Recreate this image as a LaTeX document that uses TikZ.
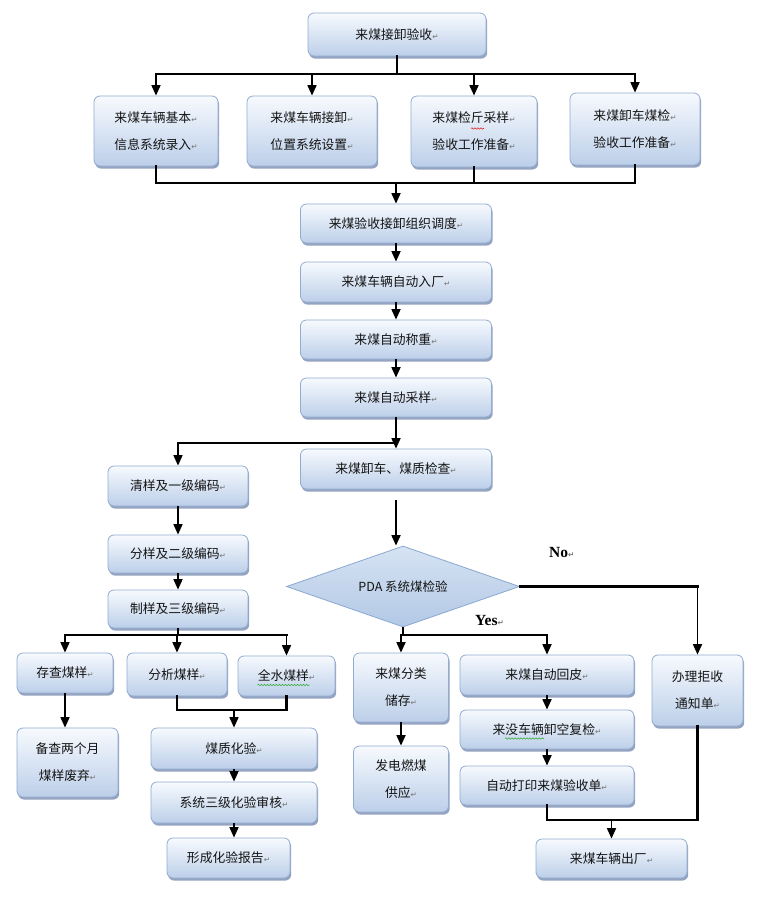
\documentclass[tikz,border=0pt]{standalone}
\usepackage{fontspec}
\setmainfont{Liberation Serif}
\newfontfamily\cjk{Noto Sans CJK SC}
\newfontfamily\djv{DejaVu Sans}
\usetikzlibrary{arrows.meta,shapes.geometric,shadows,decorations.pathmorphing,calc}

\definecolor{boxtop}{RGB}{247,250,254}
\definecolor{boxbot}{RGB}{188,207,233}
\definecolor{boxline}{RGB}{146,172,208}
\definecolor{shadowc}{RGB}{130,148,180}
\definecolor{diatop}{RGB}{214,227,243}
\definecolor{diabot}{RGB}{178,200,229}
\definecolor{dialine}{RGB}{136,168,210}
\definecolor{wavered}{RGB}{220,40,40}
\definecolor{wavegreen}{RGB}{60,170,60}

\newcommand\pmark{{\djv\color{black!55}\fontsize{7.5}{7.5}\selectfont\symbol{"21B5}}}
\newcommand\mkbox[6]{\node[box, minimum width=#4pt, minimum height=#5pt] (#1) at (#2,#3) {#6};}

\tikzset{
  box/.style={draw=boxline, line width=0.8pt, rounded corners=6pt,
    top color=boxtop, bottom color=boxbot,
    drop shadow={shadow xshift=1.2pt, shadow yshift=-2.6pt, fill=shadowc, opacity=0.85},
    inner sep=0pt, align=center, text=black!92,
    font=\cjk\fontsize{12.8}{27}\selectfont},
  diabox/.style={diamond, draw=dialine, line width=0.8pt, top color=diatop, bottom color=diabot,
    inner sep=0pt, aspect=2.9, text=black!92, font=\cjk\fontsize{12.5}{15}\selectfont},
  arr/.style={line width=1.7pt, -{Triangle[length=10.5pt,width=9pt]}},
  thin/.style={line width=1.7pt},
  bar/.style={line width=2.7pt, line cap=rect},
  wave/.style={decorate, decoration={snake, amplitude=0.7pt, segment length=3pt}, line width=0.6pt},
  lab/.style={inner sep=0pt, font=\bfseries\fontsize{15.5}{15.5}\selectfont}
}

\begin{document}
\begin{tikzpicture}[x=1pt,y=-1pt]
\fill[white] (0,0) rectangle (760,900);
\useasboundingbox (0,0) rectangle (760,900);

% top part
\mkbox{top}{397}{34.5}{178}{43}{来煤接卸验收\pmark}
\mkbox{b1}{156}{131}{124}{70}{来煤车辆基本\pmark\\信息系统录入\pmark}
\mkbox{b2}{312}{131}{130}{70}{来煤车辆接卸\pmark\\位置系统设置\pmark}
\mkbox{b3}{474}{131.5}{126}{71}{来煤检斤采样\pmark\\验收工作准备\pmark}
\mkbox{b4}{635}{129}{130}{72}{来煤卸车煤检\pmark\\验收工作准备\pmark}

% central column
\mkbox{zz}{396}{223.5}{191}{39}{来煤验收接卸组织调度\pmark}
\mkbox{rc}{396}{282}{191}{40}{来煤车辆自动入厂\pmark}
\mkbox{cz}{396}{339.5}{191}{39}{来煤自动称重\pmark}
\mkbox{cy}{396}{397.5}{191}{39}{来煤自动采样\pmark}
\mkbox{xc}{396}{469}{191}{40}{来煤卸车、煤质检查\pmark}

% left column
\mkbox{qy}{178}{486}{140}{40}{清样及一级编码\pmark}
\mkbox{fy}{178}{554}{140}{38}{分样及二级编码\pmark}
\mkbox{zy}{178}{609}{140}{38}{制样及三级编码\pmark}

% decision
\node[diabox, minimum width=233pt, minimum height=81pt] (dia) at (403,586.5) {PDA 系统煤检验};

% lower left
\mkbox{cc}{65}{673}{96}{40}{存查煤样\pmark}
\mkbox{fx}{177}{674.5}{100}{43}{分析煤样\pmark}
\mkbox{qs}{286.5}{676}{97}{40}{全水煤样\pmark}
\mkbox{bc}{67.5}{762.5}{101}{69}{备查两个月\\煤样废弃\pmark}
\mkbox{mz}{234}{748.5}{166}{41}{煤质化验\pmark}
\mkbox{sh}{234}{802.5}{166}{41}{系统三级化验审核\pmark}
\mkbox{bg}{228.5}{858}{123}{40}{形成化验报告\pmark}

% lower right
\mkbox{fl}{401}{687.5}{95}{69}{来煤分类\\储存\pmark}
\mkbox{fd}{401}{779}{95}{66}{发电燃煤\\供应\pmark}
\mkbox{hp}{547}{675}{174}{40}{来煤自动回皮\pmark}
\mkbox{fj}{547}{729.5}{174}{39}{来没车辆卸空复检\pmark}
\mkbox{dy}{547}{785.5}{174}{39}{自动打印来煤验收单\pmark}
\mkbox{jq}{697.5}{690.5}{91}{71}{办理拒收\\通知单\pmark}
\mkbox{cl}{611.5}{858.5}{151}{39}{来煤车辆出厂\pmark}

% labels
\node[lab, anchor=west] (no) at (549,552) {No\pmark};
\node[lab, anchor=west] (yes) at (475,620) {Yes\pmark};

% ---- connectors ----
\coordinate (j1) at (397,74);
\draw[bar] (top.south) -- (j1);
\draw[bar] (b1.north|-j1) -- (b4.north|-j1);
\foreach \n in {b1,b2,b3,b4} \draw[arr] (\n.north|-j1) -- (\n.north);

\coordinate (j2) at (397,183);
\draw[bar] (b1.south) -- (b1.south|-j2) -- (b4.south|-j2) -- (b4.south);
\draw[bar] (b3.south) -- (b3.south|-j2);
\draw[arr] (zz.north|-j2) -- (zz.north);

\draw[arr] (zz) -- (rc);
\draw[arr] (rc) -- (cz);
\draw[arr] (cz) -- (cy);

\coordinate (j3) at (396,443);
\draw[thin] (cy.south) -- (j3);
\draw[arr] (j3) -- (xc.north);
\draw[bar] (j3) -- (qy.north|-j3);
\draw[arr] (qy.north|-j3) -- (qy.north);
\draw[arr] (qy) -- (fy);
\draw[arr] (fy) -- (zy);

\draw[arr, shorten <=11pt] (xc.south) -- (xc.south|-dia.north);

\coordinate (j4) at (jq.north|-dia.east);
\draw[bar] (dia.east) -- (j4);
\draw[arr] (j4) -- (jq.north);

\coordinate (j5) at (403,635);
\draw[thin] (dia.south) -- (dia.south|-j5);
\draw[bar] (fl.north|-j5) -- (hp.north|-j5);
\draw[arr] (fl.north|-j5) -- (fl.north);
\draw[arr] (hp.north|-j5) -- (hp.north);
\draw[arr] (fl) -- (fd);
\draw[arr] (hp) -- (fj);
\draw[arr] (fj) -- (dy);

\coordinate (j6) at (613,820);
\draw[bar] (dy.south) -- (dy.south|-j6) -- (jq.south|-j6) -- (jq.south);
\draw[arr] (cl.north|-j6) -- (cl.north);

\coordinate (j7) at (178,635);
\draw[thin] (zy.south) -- (j7);
\draw[bar] (cc.north|-j7) -- (qs.north|-j7);
\draw[arr] (cc.north|-j7) -- (cc.north);
\draw[arr] (fx.north|-j7) -- (fx.north);
\draw[arr] (qs.north|-j7) -- (qs.north);
\draw[arr] (cc.south) -- (cc.south|-bc.north);

\coordinate (j8) at (234,710);
\draw[bar] (fx.south) -- (fx.south|-j8) -- (qs.south|-j8) -- (qs.south);
\draw[arr] (mz.north|-j8) -- (mz.north);
\draw[arr] (mz) -- (sh);
\draw[arr] (sh.south) -- (sh.south|-bg.north);

% spell-check waves
\draw[wave, wavered] ($(b3.center)+(-3,-3)$) -- ++(13,0);
\draw[wave, wavegreen] ($(qs.center)+(-29,9)$) -- ++(52,0);
\draw[wave, wavegreen] ($(fj.center)+(-42,9)$) -- ++(39,0);
\end{tikzpicture}
\end{document}
